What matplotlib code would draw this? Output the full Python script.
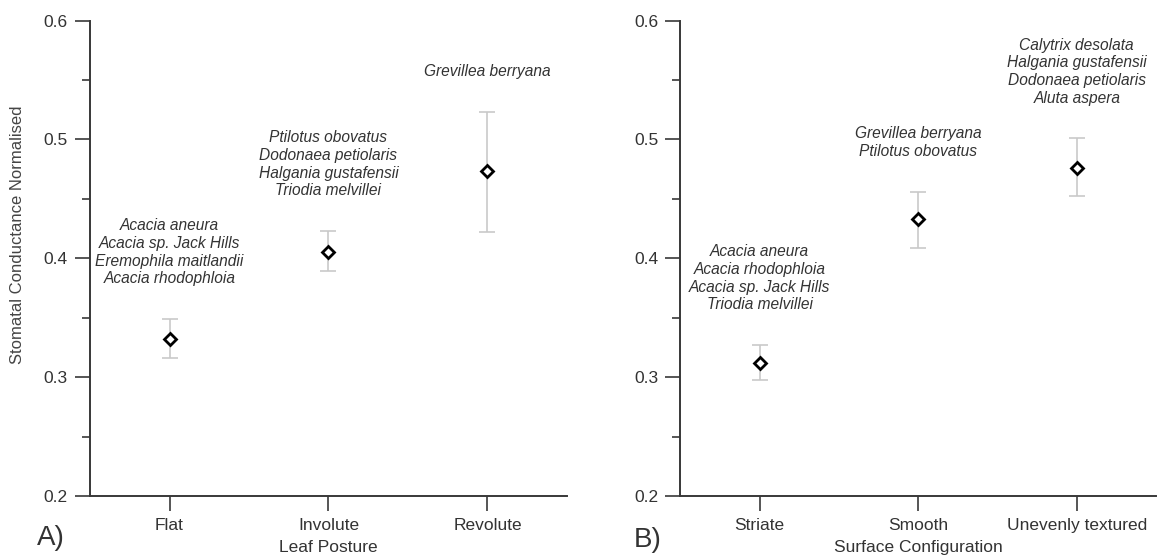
import matplotlib
matplotlib.use("Agg")
import matplotlib.pyplot as plt
from matplotlib.ticker import MultipleLocator

plt.rcParams['font.family'] = ['Liberation Sans', 'DejaVu Sans']

# ---- data ----
cats_a = ["Flat", "Involute", "Revolute"]
mean_a = [0.332, 0.405, 0.473]
upper_a = [0.349, 0.423, 0.523]
lower_a = [0.316, 0.389, 0.422]
species_a = [
    ["Acacia aneura", "Acacia sp. Jack Hills", "Eremophila maitlandii", "Acacia rhodophloia"],
    ["Ptilotus obovatus", "Dodonaea petiolaris", "Halgania gustafensii", "Triodia melvillei"],
    ["Grevillea berryana"],
]

cats_b = ["Striate", "Smooth", "Unevenly textured"]
mean_b = [0.312, 0.433, 0.476]
upper_b = [0.327, 0.456, 0.501]
lower_b = [0.298, 0.409, 0.452]
species_b = [
    ["Acacia aneura", "Acacia rhodophloia", "Acacia sp. Jack Hills", "Triodia melvillei"],
    ["Grevillea berryana", "Ptilotus obovatus"],
    ["Calytrix desolata", "Halgania gustafensii", "Dodonaea petiolaris", "Aluta aspera"],
]

xlabel_a = "Leaf Posture"
xlabel_b = "Surface Configuration"
ylabel = "Stomatal Conductance Normalised"
y_ticks = [0.2, 0.3, 0.4, 0.5, 0.6]

AX_COL = "#383838"
TXT_COL = "#333333"

fig = plt.figure(figsize=(11.69, 5.59), dpi=100)
ax_a = fig.add_axes([0.077, 0.1127, 0.408, 0.8506])
ax_b = fig.add_axes([0.5821, 0.1127, 0.4068, 0.8506])


def draw(ax, cats, mean, upper, lower, species, xlabel):
    x = list(range(len(cats)))
    yerr = [[m - l for m, l in zip(mean, lower)], [u - m for m, u in zip(mean, upper)]]
    ax.errorbar(x, mean, yerr=yerr, fmt='none', ecolor="#c9c9c9", elinewidth=1.2,
                capsize=6, capthick=1.2, zorder=2)
    ax.plot(x, mean, linestyle='none', marker='D', markersize=6.3,
            markerfacecolor='white', markeredgecolor='black', markeredgewidth=2.0, zorder=3)
    for xi, up, sp in zip(x, upper, species):
        ax.annotate("\n".join(sp), xy=(xi, up), xytext=(0, 23.5), textcoords='offset points',
                    ha='center', va='bottom', fontsize=11.2, style='italic',
                    color=TXT_COL, linespacing=1.22)
    ax.set_xlim(-0.5, 2.5)
    ax.set_ylim(0.2, 0.6)
    ax.set_xticks(x)
    ax.set_xticklabels(cats)
    ax.set_yticks(y_ticks)
    ax.set_yticklabels([f"{v:.1f}" for v in y_ticks])
    ax.yaxis.set_minor_locator(MultipleLocator(0.05))
    for s in ['top', 'right']:
        ax.spines[s].set_visible(False)
    for s in ['left', 'bottom']:
        ax.spines[s].set_color(AX_COL)
        ax.spines[s].set_linewidth(1.4)
    ax.tick_params(axis='both', which='major', direction='out', length=11, width=1.2,
                   color=AX_COL, labelsize=12.5, labelcolor=TXT_COL)
    ax.tick_params(axis='y', which='major', pad=5)
    ax.tick_params(axis='x', which='major', pad=5)
    ax.tick_params(axis='y', which='minor', direction='out', length=6, width=1.2, color=AX_COL)
    ax.set_xlabel(xlabel, fontsize=12.5, color=TXT_COL, labelpad=5)


draw(ax_a, cats_a, mean_a, upper_a, lower_a, species_a, xlabel_a)
draw(ax_b, cats_b, mean_b, upper_b, lower_b, species_b, xlabel_b)

fig.text(18 / 1169, 1 - 235 / 559, ylabel, rotation=90, ha='center', va='center',
         fontsize=12, color="#444444")
fig.text(37 / 1169, 1 - 538 / 559, "A)", ha='left', va='center', fontsize=20, color=TXT_COL)
fig.text(634 / 1169, 1 - 540 / 559, "B)", ha='left', va='center', fontsize=20, color=TXT_COL)

fig.savefig("out.png", dpi=100)
